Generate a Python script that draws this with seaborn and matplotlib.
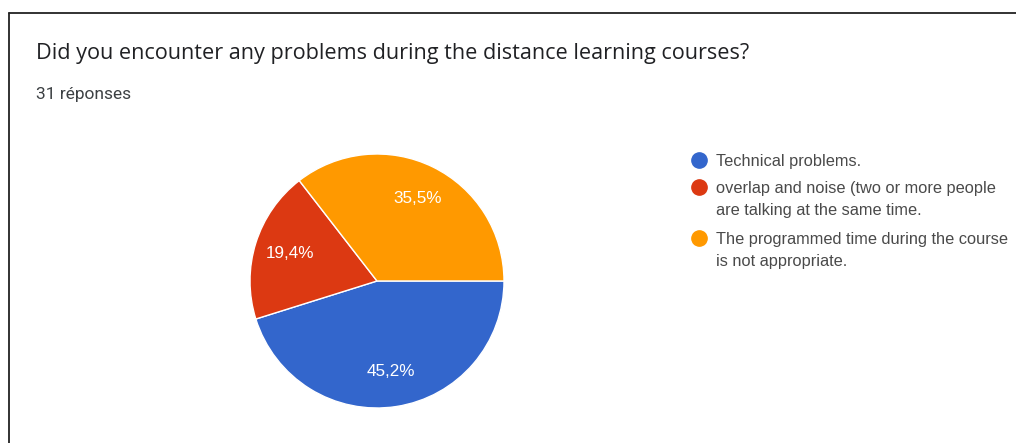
import matplotlib.pyplot as plt
import seaborn as sns
from matplotlib.lines import Line2D

title = "Did you encounter any problems during the distance learning courses?"
subtitle = "31 réponses"
labels = ["Technical problems.",
          "overlap and noise (two or more people\nare talking at the same time.",
          "The programmed time during the course\nis not appropriate."]
counts = [14, 6, 11]
colors = ["#3366CC", "#DC3912", "#FF9900"]

sns.set_theme(style="white")
plt.rcParams['font.family'] = ['Liberation Sans', 'DejaVu Sans']

W, H = 1016, 443
fig = plt.figure(figsize=(W / 100, H / 100), dpi=100)
fig.patch.set_facecolor('white')

# pie, placed in pixel terms
cx, cy, r = 377, 281, 127
ax = fig.add_axes([(cx - r) / W, (H - cy - r) / H, 2 * r / W, 2 * r / H])
ax.pie(counts, colors=colors, startangle=0, counterclock=False,
       autopct=lambda p: f"{p:.1f}%".replace('.', ','), pctdistance=0.72,
       wedgeprops=dict(edgecolor='white', linewidth=1),
       textprops=dict(color='white', fontsize=12.3))
ax.set_xlim(-1, 1)
ax.set_ylim(-1, 1)
ax.axis('off')

fig.text(36 / W, 1 - 54 / H, title, fontsize=15.6, family='Open Sans',
         color='#202124', va='center', ha='left')
fig.text(36 / W, 1 - 94 / H, subtitle, fontsize=12.5, family='Roboto',
         color='#3c4043', va='center', ha='left')

# legend (circle + text, text top aligned near first line)
leg_y = [160, 187, 238]
for y, lab, col in zip(leg_y, labels, colors):
    fig.add_artist(Line2D([699 / W], [1 - y / H], marker='o', markersize=11,
                          color=col, linestyle='none', transform=fig.transFigure))
    fig.text(716 / W, 1 - (y - 6) / H, lab, fontsize=11.8, color='#4a4a4a',
             va='top', ha='left', linespacing=1.6)

# frame
fig.add_artist(Line2D([9 / W, 9 / W], [0, 1 - 13 / H], color='#222222', lw=1.3,
                      transform=fig.transFigure))
fig.add_artist(Line2D([9 / W, 1], [1 - 13 / H, 1 - 13 / H], color='#222222', lw=1.3,
                      transform=fig.transFigure))

fig.savefig('out.png', dpi=100)
